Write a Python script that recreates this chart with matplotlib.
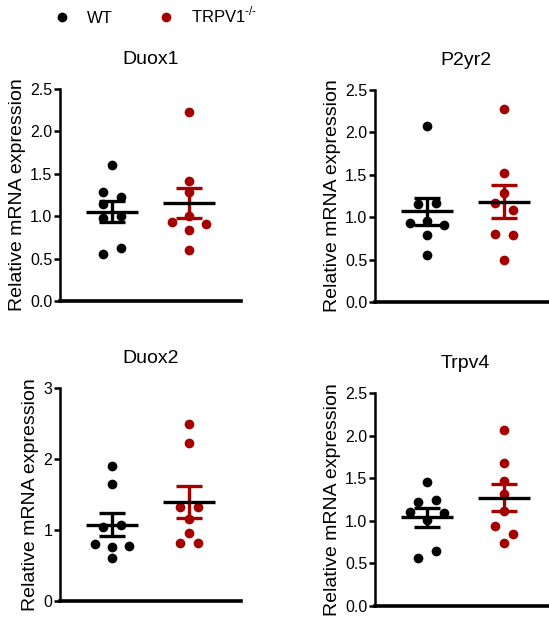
import matplotlib
matplotlib.use('Agg')
import matplotlib.pyplot as plt
import numpy as np
from matplotlib.lines import Line2D

plt.rcParams['font.family'] = ['Liberation Sans', 'DejaVu Sans']
plt.rcParams['mathtext.fontset'] = 'custom'
plt.rcParams['mathtext.rm'] = 'Liberation Sans'

# ---------------- data ----------------
groups = ['WT', 'TRPV1$^{\\mathregular{\u2010/\u2010}}$']
genes = ['Duox1', 'P2yr2', 'Duox2', 'Trpv4']
ylabel = 'Relative mRNA expression'

duox1_wt = [1.60, 1.29, 1.23, 1.14, 1.00, 0.98, 0.63, 0.55]
duox1_ko = [2.23, 1.41, 1.29, 1.00, 0.93, 0.91, 0.84, 0.60]
p2yr2_wt = [2.07, 1.16, 1.17, 0.93, 0.96, 0.91, 0.79, 0.55]
p2yr2_ko = [2.28, 1.52, 1.29, 1.17, 1.09, 0.80, 0.79, 0.50]
duox2_wt = [1.90, 1.65, 1.07, 1.04, 0.80, 0.76, 0.77, 0.61]
duox2_ko = [2.50, 2.22, 1.33, 1.33, 1.15, 0.96, 0.81, 0.81]
trpv4_wt = [1.45, 1.22, 1.25, 1.10, 1.09, 1.01, 0.64, 0.56]
trpv4_ko = [2.06, 1.68, 1.47, 1.31, 1.11, 0.94, 0.85, 0.74]

y_max = [2.5, 2.5, 3, 2.5]
y_step = [0.5, 0.5, 1, 0.5]

# horizontal scatter slots (layout only)
duox1_wt_slot = [0, -1, 1, -1, 1, -1, 1, -1]
duox1_ko_slot = [0, 0, 0, 0, -2, 2, 0, 0]
p2yr2_wt_slot = [0, -1, 1, -2, 0, 2, 0, 0]
p2yr2_ko_slot = [0, 0, 0, -1, 1, -1, 1, 0]
duox2_wt_slot = [0, 0, 1, -1, -2, 0, 2, 0]
duox2_ko_slot = [0, 0, -1, 1, 0, 0, -1, 1]
trpv4_wt_slot = [0, -1, 1, -2, 2, 0, 1, -1]
trpv4_ko_slot = [0, 0, 0, 0, 0, -1, 1, 0]

wt_sets = [duox1_wt, p2yr2_wt, duox2_wt, trpv4_wt]
ko_sets = [duox1_ko, p2yr2_ko, duox2_ko, trpv4_ko]
wt_slots = [duox1_wt_slot, p2yr2_wt_slot, duox2_wt_slot, trpv4_wt_slot]
ko_slots = [duox1_ko_slot, p2yr2_ko_slot, duox2_ko_slot, trpv4_ko_slot]

# ---------------- style ----------------
colors = ['#000000', '#a50000']
W, H = 549, 622
fig = plt.figure(figsize=(W / 100, H / 100), dpi=100)

# axes boxes in pixels: left, top, width, height
boxes = [(60, 89, 181, 212), (375, 90, 181, 212),
         (60, 388, 181, 213), (375, 393, 181, 213)]

slot_w = 0.1126
mean_hw = 0.338
lw = 2.4

for k, gene in enumerate(genes):
    l, t, w, h = boxes[k]
    ax = fig.add_axes([l / W, 1 - (t + h) / H, w / W, h / H])
    for g, (vals, slots) in enumerate([(wt_sets[k], wt_slots[k]), (ko_sets[k], ko_slots[k])]):
        v = np.array(vals)
        x = g + np.array(slots) * slot_w
        ax.plot(x, v, 'o', ms=7, mew=0, color=colors[g], zorder=2, clip_on=False)
        m = v.mean()
        s = v.std(ddof=1) / np.sqrt(len(v))
        ax.errorbar(g, m, yerr=s, fmt='none', ecolor=colors[g], elinewidth=lw,
                    capsize=9.4, capthick=lw, zorder=3)
        ax.hlines(m, g - mean_hw, g + mean_hw, color='black', lw=lw, zorder=4)
    ax.set_xlim(-0.674, 1.674)
    ax.set_ylim(0, y_max[k])
    ticks = np.arange(0, y_max[k] + 1e-9, y_step[k])
    ax.set_yticks(ticks)
    if y_step[k] < 1:
        ax.set_yticklabels(['%.1f' % tv for tv in ticks])
    else:
        ax.set_yticklabels(['%d' % tv for tv in ticks])
    ax.set_xticks([])
    for sp in ['top', 'right']:
        ax.spines[sp].set_visible(False)
    ax.spines['left'].set_linewidth(1.8)
    ax.spines['bottom'].set_linewidth(2.6)
    ax.tick_params(axis='y', length=4, width=1.8, labelsize=11.5, pad=1.5, color='black')
    ax.set_ylabel(ylabel, fontsize=14, labelpad=3)
    ax.set_title(gene, fontsize=14, pad=18)

handles = [Line2D([], [], marker='o', ls='none', ms=7, mew=0, color=c) for c in colors]
fig.legend(handles, groups, loc='upper left', bbox_to_anchor=(55 / W, 1 - 5 / H),
           ncol=2, frameon=False, fontsize=12, handlelength=0.8, handletextpad=1.1,
           columnspacing=2.8, borderpad=0, borderaxespad=0)

fig.savefig('out.png', dpi=100)
